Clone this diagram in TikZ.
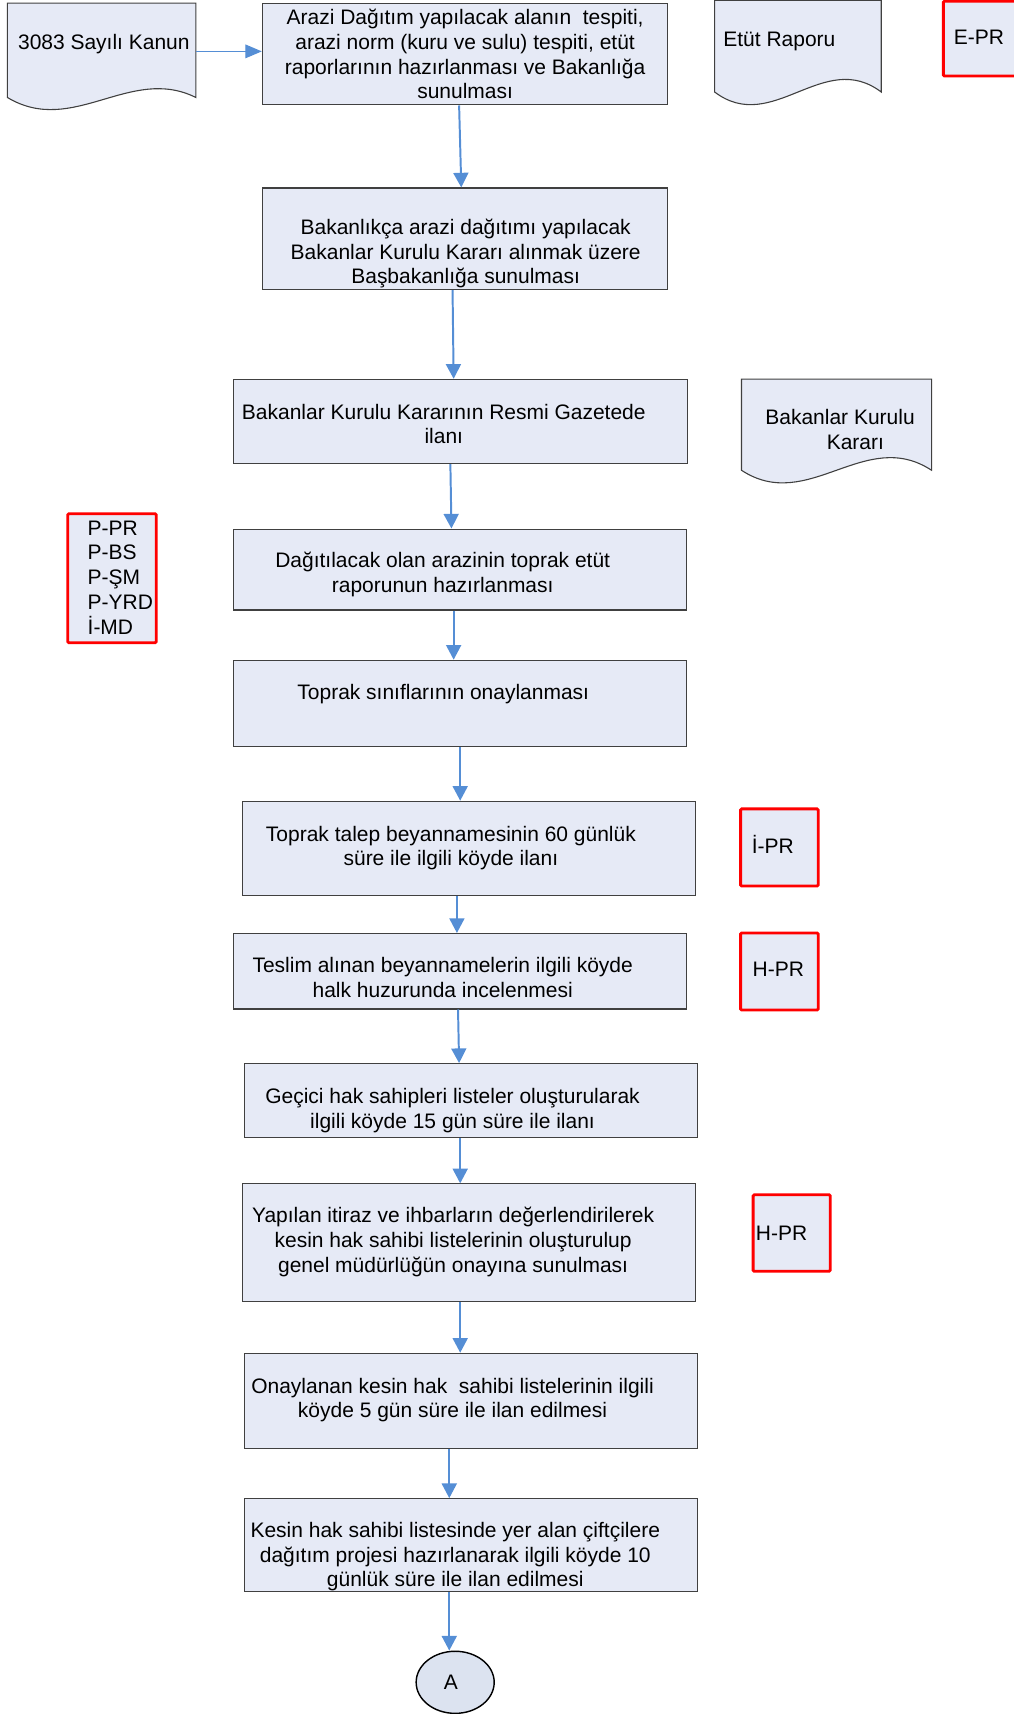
\documentclass[tikz,border=0pt]{standalone}
\usepackage{fontspec}
\setmainfont{Liberation Sans}
\usetikzlibrary{arrows.meta,shapes.geometric,calc}
\definecolor{boxfill}{RGB}{230,234,246}
\definecolor{circfill}{RGB}{220,227,240}
\definecolor{boxline}{RGB}{64,64,64}
\definecolor{arrowblue}{RGB}{85,142,213}
\definecolor{redline}{RGB}{255,0,0}
\newcommand\mlines[1]{\begin{tabular}[t]{@{}c@{}}#1\end{tabular}}
\newcommand\llines[1]{\begin{tabular}[t]{@{}l@{}}#1\end{tabular}}
\newcommand\docpath[5]{%
  \path[docline] (#1.south west) -- (#1.north west) -- (#1.north east) -- (#1.south east)
    .. controls ($(#1.south east)+(-#2,-#3)$) and ($(#1.south west)+(#4,#5)$) .. (#1.south west) -- cycle;}
\begin{document}
\begin{tikzpicture}[x=1pt,y=-1pt,
  procbox/.style={draw=boxline, fill=boxfill, line width=1pt, inner sep=0pt},
  codebox/.style={draw=redline, fill=boxfill, line width=2.6pt, rounded corners=1pt, inner sep=0pt},
  docbox/.style={inner sep=0pt},
  docline/.style={draw=boxline, fill=boxfill, line width=1pt},
  txt/.style={inner sep=0pt, anchor=base, font=\fontsize{19.2}{22.6}\selectfont},
  ltxt/.style={txt, anchor=base west},
  flow/.style={draw=arrowblue, line width=1.8pt, -{Triangle[width=13.7pt,length=13.4pt]}},
  thinflow/.style={draw=arrowblue, line width=1pt, -{Triangle[width=12.5pt,length=15pt]}},
  connector/.style={draw=black, fill=circfill, line width=1.3pt, ellipse, inner sep=0pt,
    minimum width=71.4pt, minimum height=56.8pt, font=\fontsize{19.2}{22.6}\selectfont},
]
\useasboundingbox (0,0) rectangle (927,1568);

% document shapes
\node[docbox, minimum width=172pt, minimum height=86pt] (d1) at (93,46) {};
\docpath{d1}{60}{30}{60}{36}
\node[docbox, minimum width=152pt, minimum height=83.5pt] (d2) at (730,42.25) {};
\docpath{d2}{53}{40}{53}{40}
\node[docbox, minimum width=173.5pt, minimum height=83pt] (d3) at (765.25,388.5) {};
\docpath{d3}{61}{40}{61}{40}
\node[txt] (td1) at (95,45.5) {3083 Sayılı Kanun};
\node[txt] (td2) at (713,42.5) {Etüt Raporu};
\node[txt] (td3) at (768.5,388.5) {\mlines{Bakanlar Kurulu\\\hspace*{28pt}Kararı}};

% process boxes
\node[procbox, minimum width=371pt, minimum height=93pt] (b1) at (425.5,49.5) {};
\node[procbox, minimum width=371pt, minimum height=93pt] (b2) at (425.5,218.5) {};
\node[procbox, minimum width=415pt, minimum height=77pt] (b3) at (421.5,385.5) {};
\node[procbox, minimum width=414pt, minimum height=74pt] (b4) at (421,521) {};
\node[procbox, minimum width=414pt, minimum height=79pt] (b5) at (421,643.5) {};
\node[procbox, minimum width=414pt, minimum height=86pt] (b6) at (429,776) {};
\node[procbox, minimum width=414pt, minimum height=69pt] (b7) at (421,888.5) {};
\node[procbox, minimum width=414pt, minimum height=68pt] (b8) at (431,1007) {};
\node[procbox, minimum width=414pt, minimum height=108pt] (b9) at (429,1137) {};
\node[procbox, minimum width=414pt, minimum height=87pt] (b10) at (431,1281.5) {};
\node[procbox, minimum width=414pt, minimum height=85pt] (b11) at (431,1413.5) {};

\node[txt] (t1) at (425.5,22.5) {\mlines{Arazi Dağıtım yapılacak alanın\ \ tespiti,\\arazi norm (kuru ve sulu) tespiti, etüt\\raporlarının hazırlanması ve Bakanlığa\\sunulması}};
\node[txt] (t2) at (426,214.5) {\mlines{Bakanlıkça arazi dağıtımı yapılacak\\Bakanlar Kurulu Kararı alınmak üzere\\Başbakanlığa sunulması}};
\node[txt] (t3) at (406,383.5) {\mlines{Bakanlar Kurulu Kararının Resmi Gazetede\\ilanı}};
\node[txt] (t4) at (405,519.5) {\mlines{Dağıtılacak olan arazinin toprak etüt\\raporunun hazırlanması}};
\node[txt] (t5) at (405.5,639.5) {Toprak sınıflarının onaylanması};
\node[txt] (t6) at (412.5,769.5) {\mlines{Toprak talep beyannamesinin 60 günlük\\süre ile ilgili köyde ilanı}};
\node[txt] (t7) at (405,889.5) {\mlines{Teslim alınan beyannamelerin ilgili köyde\\halk huzurunda incelenmesi}};
\node[txt] (t8) at (414,1009.5) {\mlines{Geçici hak sahipleri listeler oluşturularak\\ilgili köyde 15 gün süre ile ilanı}};
\node[txt] (t9) at (414.5,1118.5) {\mlines{Yapılan itiraz ve ihbarların değerlendirilerek\\kesin hak sahibi listelerinin oluşturulup\\genel müdürlüğün onayına sunulması}};
\node[txt] (t10) at (414,1274.5) {\mlines{Onaylanan kesin hak\ \ sahibi listelerinin ilgili\\köyde 5 gün süre ile ilan edilmesi}};
\node[txt] (t11) at (416.5,1406.5) {\mlines{Kesin hak sahibi listesinde yer alan çiftçilere\\dağıtım projesi hazırlanarak ilgili köyde 10\\günlük süre ile ilan edilmesi}};

% red code boxes
\node[codebox, minimum width=77pt, minimum height=68.5pt] (r1) at (901.5,35.25) {};
\node[codebox, minimum width=81pt, minimum height=118pt] (r2) at (102.5,529) {};
\node[codebox, minimum width=71pt, minimum height=70.5pt] (r3) at (713,775.25) {};
\node[codebox, minimum width=71pt, minimum height=70.5pt] (r4) at (713,888.75) {};
\node[codebox, minimum width=70.5pt, minimum height=70pt] (r5) at (724.25,1128) {};
\node[txt] (tr1) at (895.5,40.5) {E-PR};
\node[ltxt] (tr2) at (80,489.5) {\llines{P-PR\\P-BS\\P-ŞM\\P-YRD\\İ-MD}};
\node[txt] (tr3) at (707,780.5) {İ-PR};
\node[txt] (tr4) at (712,893.5) {H-PR};
\node[txt] (tr5) at (715,1134.5) {H-PR};

% off-page connector
\node[connector] (A) at (416.4,1539) {A\hspace*{8pt}};

% connectors
\draw[thinflow] ([yshift=-1pt]d1.east) -- ([yshift=2.5pt]b1.west);
\draw[flow] ([xshift=-5.5pt]b1.south) -- ([xshift=-3.5pt]b2.north);
\draw[flow] ([xshift=-11.5pt]b2.south) -- ([xshift=-6.5pt]b3.north);
\draw[flow] ([xshift=-9.5pt]b3.south) -- ([xshift=-8pt]b4.north);
\draw[flow] ([xshift=-6pt]b4.south) -- ([xshift=-6pt]b5.north);
\draw[flow] (b5.south) -- ([xshift=-8pt]b6.north);
\draw[flow] ([xshift=-11pt]b6.south) -- ([xshift=-3pt]b7.north);
\draw[flow] ([xshift=-2pt]b7.south) -- ([xshift=-11pt]b8.north);
\draw[flow] ([xshift=-10pt]b8.south) -- ([xshift=-8pt]b9.north);
\draw[flow] ([xshift=-8pt]b9.south) -- ([xshift=-10pt]b10.north);
\draw[flow] ([xshift=-20pt]b10.south) -- ([xshift=-20pt]b11.north);
\draw[flow] ([xshift=-20pt]b11.south) -- ([xshift=-5.4pt]A.north);
\end{tikzpicture}
\end{document}
